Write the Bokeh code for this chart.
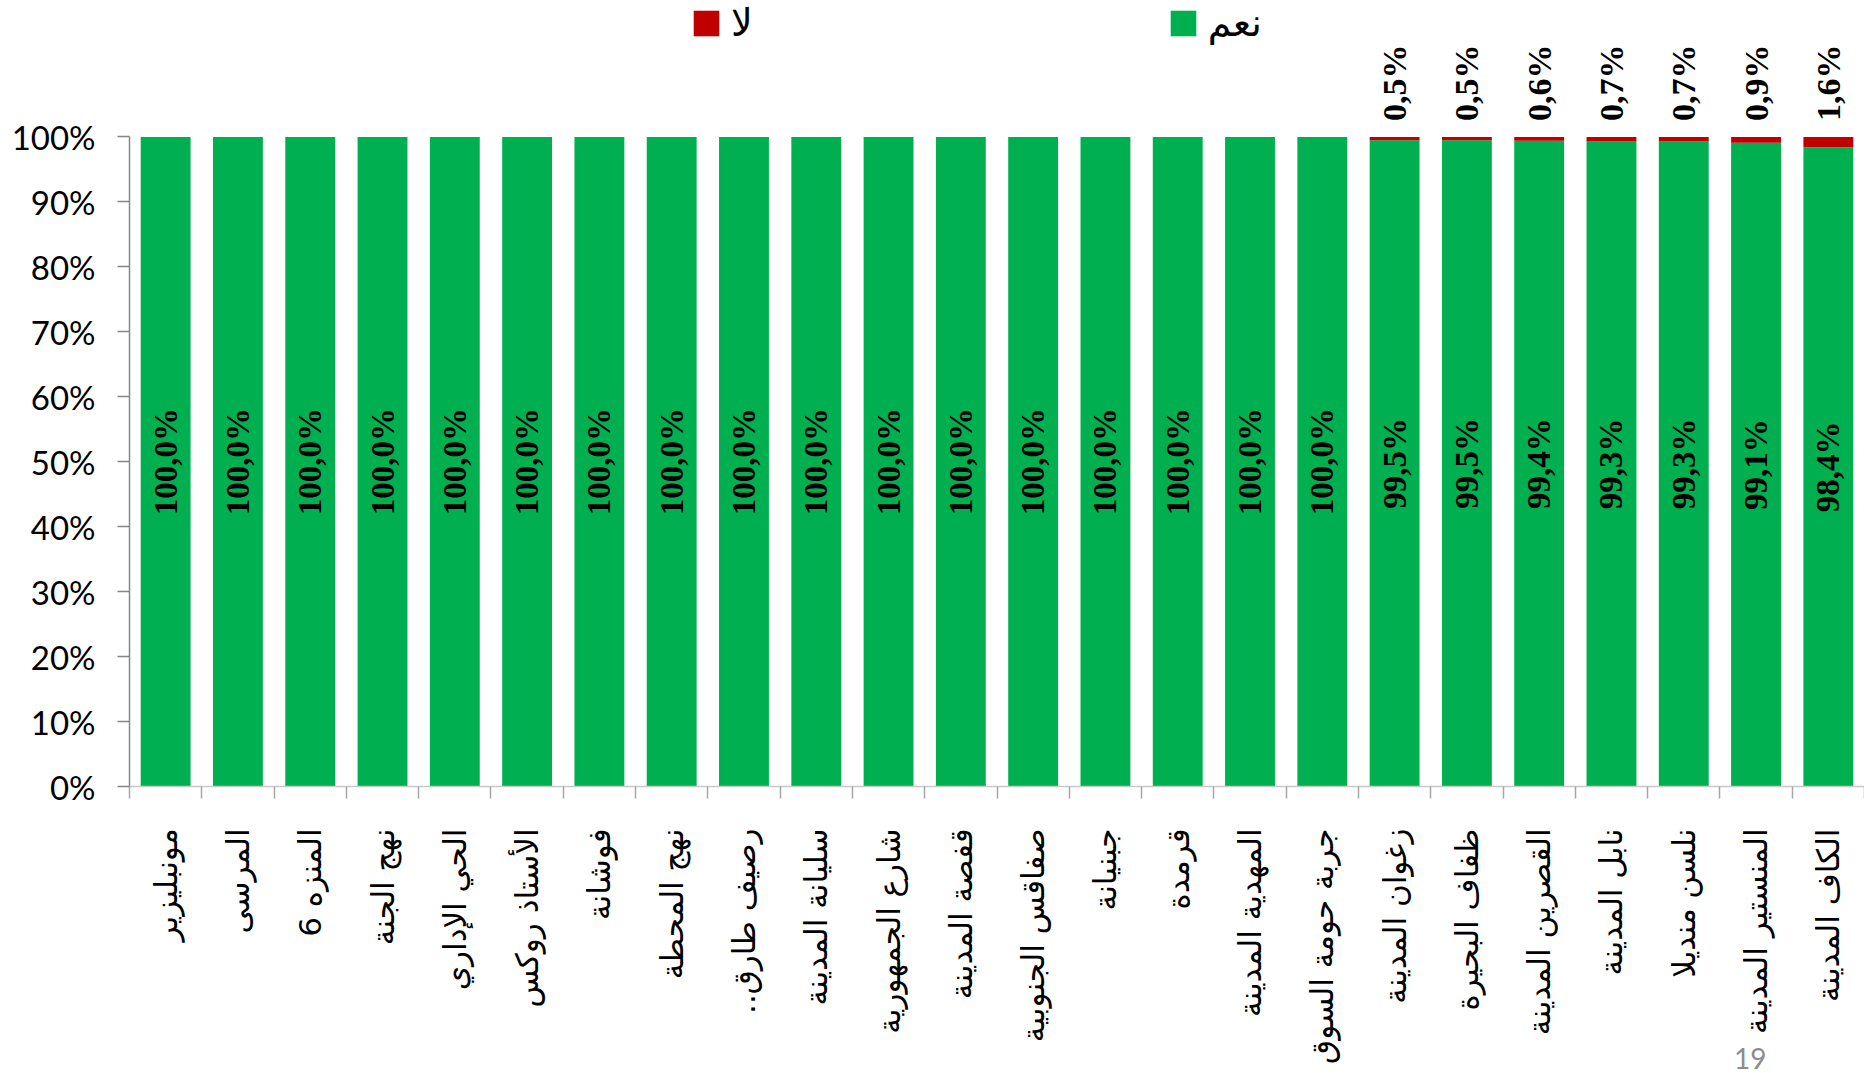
import math
from bokeh.plotting import figure
from bokeh.layouts import column
from bokeh.models import (ColumnDataSource, Range1d, FixedTicker, Legend,
                          LegendItem, Div)
from bokeh.core.properties import value
from bokeh.embed import file_html
from bokeh.resources import INLINE

# ---------------- data ----------------
categories = [
    "مونبليزير", "المرسى", "المنزه 6", "نهج الجنة", "الحي الإداري",
    "الأستاذ روكس", "فوشانة", "نهج المحطة", "رصيف طارق..\u200f", "سليانة المدينة",
    "شارع الجمهورية", "قفصة المدينة", "صفاقس الجنوبية", "جبنيانة", "قرمدة",
    "المهدية المدينة", "جربة حومة السوق", "زغوان المدينة", "ظفاف البحيرة",
    "القصرين المدينة", "نابل المدينة", "نلسن منديلا", "المنستير المدينة",
    "الكاف المدينة",
]
yes_pct = [100.0, 100.0, 100.0, 100.0, 100.0, 100.0, 100.0, 100.0, 100.0,
           100.0, 100.0, 100.0, 100.0, 100.0, 100.0, 100.0, 100.0,
           99.5, 99.5, 99.4, 99.3, 99.3, 99.1, 98.4]
no_pct = [0.0, 0.0, 0.0, 0.0, 0.0, 0.0, 0.0, 0.0, 0.0,
          0.0, 0.0, 0.0, 0.0, 0.0, 0.0, 0.0, 0.0,
          0.5, 0.5, 0.6, 0.7, 0.7, 0.9, 1.6]
series_names = ["نعم", "لا"]
y_ticks = [0, 10, 20, 30, 40, 50, 60, 70, 80, 90, 100]
y_tick_labels = ["0%", "10%", "20%", "30%", "40%", "50%", "60%", "70%",
                 "80%", "90%", "100%"]
slide_number = "19"


def fmt(v):
    return ("%.1f" % v).replace(".", ",") + "%"


n = len(categories)
xs = list(range(n))
src = ColumnDataSource(dict(
    x=xs, yes=yes_pct, no=no_pct,
    mid=[v / 2 for v in yes_pct],
    yes_label=[fmt(v) for v in yes_pct],
))
idx_no = [i for i in range(n) if no_pct[i] > 0]
src_no = ColumnDataSource(dict(
    x=[xs[i] for i in idx_no],
    top=[yes_pct[i] + no_pct[i] for i in idx_no],
    label=[fmt(no_pct[i]) for i in idx_no],
))

GREEN = "#00b050"
RED = "#c00000"

p = figure(width=1864, height=1066,
           x_range=Range1d(-0.5, n - 0.5), y_range=Range1d(0, 121.0),
           output_backend="svg", toolbar_location=None,
           min_border_left=129, min_border_right=0,
           min_border_top=0, min_border_bottom=277)
p.outline_line_color = None
p.grid.visible = False
p.background_fill_color = "white"
p.border_fill_color = "white"

rs = p.vbar_stack(["yes", "no"], x="x", width=0.69, color=[GREEN, RED],
                  line_color=None, source=src)

# labels inside green bars
p.text(x="x", y="mid", text="yes_label", angle=math.pi / 2,
       text_align="center", text_baseline="middle",
       text_font=value("Liberation Serif"), text_font_style="bold",
       text_font_size="33px", text_color="black", source=src)
# labels above bars for the red part
p.text(x="x", y="top", text="label", angle=math.pi / 2,
       text_align="left", text_baseline="middle", y_offset=-16,
       text_font=value("Liberation Serif"), text_font_style="bold",
       text_font_size="34px", text_color="black", source=src_no)

# y axis
ya = p.yaxis[0]
ya.ticker = FixedTicker(ticks=y_ticks, minor_ticks=[])
ya.bounds = (0, 100)
ya.major_label_overrides = {t: l for t, l in zip(y_ticks, y_tick_labels)}
ya.major_tick_out = 12
ya.major_tick_in = 0
ya.minor_tick_out = 0
ya.minor_tick_in = 0
ya.axis_line_color = "#868686"
ya.axis_line_width = 1.5
ya.major_tick_line_color = "#868686"
ya.major_tick_line_width = 1.5
ya.major_label_text_font = "Lato"
ya.major_label_text_font_size = "33px"
ya.major_label_text_color = "black"
ya.major_label_standoff = 22

# x axis
xa = p.xaxis[0]
xa.ticker = FixedTicker(ticks=xs, minor_ticks=[i - 0.5 for i in range(n + 1)])
xa.major_label_overrides = {i: c for i, c in zip(xs, categories)}
xa.major_label_orientation = math.pi / 2
xa.major_tick_out = 0
xa.major_tick_in = 0
xa.minor_tick_out = 12
xa.minor_tick_in = 0
xa.axis_line_color = "#c8c8c8"
xa.axis_line_width = 1.5
xa.minor_tick_line_color = "#a6a6a6"
xa.minor_tick_line_width = 1.5
xa.major_label_text_font = "DejaVu Sans"
xa.major_label_text_font_size = "31px"
xa.major_label_text_color = "black"
xa.major_label_standoff = 30

legend = Legend(
    items=[LegendItem(label=series_names[1], renderers=[rs[1]]),
           LegendItem(label=series_names[0], renderers=[rs[0]])],
    orientation="horizontal", location=(561, 741), spacing=414,
    glyph_width=32, glyph_height=32, label_standoff=9,
    label_text_font="DejaVu Sans", label_text_font_size="38px",
    label_text_color="black",
    padding=0, margin=0, border_line_color=None, background_fill_alpha=0,
)
p.add_layout(legend)

# slide number, laid over the bottom-right corner of the figure
num = Div(text=slide_number, width=44, height=30,
          styles={"margin-top": "-30px", "margin-left": "1734px",
                  "color": "#8c8c8c", "font-family": "Lato",
                  "font-size": "28px", "line-height": "44px",
                  "overflow": "visible",
                  "z-index": "10", "position": "relative"})

page = column(p, num, spacing=0)
open("out.html", "w").write(file_html(page, INLINE))
